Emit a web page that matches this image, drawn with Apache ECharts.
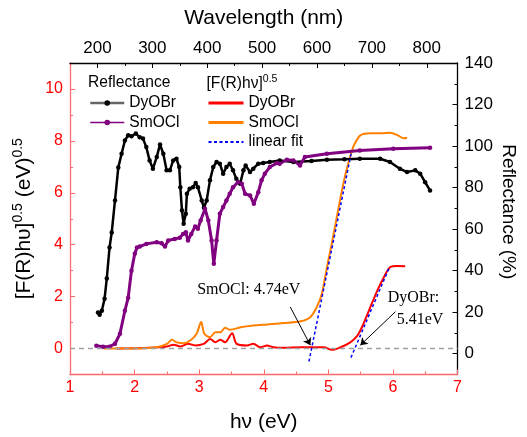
<!DOCTYPE html>
<html>
<head>
<meta charset="utf-8">
<script src="https://cdn.jsdelivr.net/npm/echarts@6/dist/echarts.min.js"></script>
<style>
  html, body { margin: 0; padding: 0; background: #fff; }
  #main { width: 527px; height: 437px; }
</style>
</head>
<body>
<div id="main"></div>
<script>
// reflectance spectra: wavelength (nm) -> reflectance (%)
var dyobrWl = [201, 204, 208, 213, 217, 222, 226, 232, 238, 244, 250, 256, 262, 270, 277, 283, 289, 295, 301, 308,
  314, 320, 326, 332, 338, 344, 349, 351, 354, 357, 361, 363, 368, 374, 379, 383, 390, 394, 399, 405,
  411, 417, 423, 429, 435, 441, 447, 453, 460, 466, 470, 478, 484, 493, 502, 514, 532, 557, 590, 618,
  650, 678, 715, 733, 751, 764, 779, 788, 797, 806];
var dyobrRefl = [19.9, 18.8, 20.7, 26.5, 36.2, 51.1, 58.4, 73.8, 89.7, 96.3, 102.7, 105.2, 104.7, 106.0, 104.3, 103.6, 99.5, 93.1, 89.1, 94.7,
  100.8, 96.3, 88.3, 88.3, 93.1, 93.9, 89.9, 80.2, 69.0, 62.6, 67.4, 77.0, 79.5, 80.2, 82.2, 80.2, 73.8, 70.3, 73.8, 83.5,
  89.9, 92.3, 91.5, 86.7, 89.9, 91.5, 88.3, 84.3, 81.9, 88.3, 90.7, 87.5, 89.1, 91.5, 91.8, 92.3, 93.1, 92.3, 92.8, 93.4,
  93.6, 93.9, 93.9, 92.3, 89.1, 87.5, 88.3, 86.7, 82.6, 78.6];
var smoclWl = [198, 210, 222, 232, 241, 250, 256, 262, 268, 272, 277, 289, 308, 317, 323, 329, 341, 350, 356, 361,
  365, 371, 378, 383, 388, 396, 402, 408, 412, 417, 423, 429, 435, 441, 447, 456, 463, 469, 478, 485,
  493, 499, 505, 514, 527, 532, 545, 557, 569, 578, 618, 678, 739, 806];
var smoclRefl = [3.9, 3.4, 3.4, 4.8, 9.6, 20.7, 27.0, 40.0, 48.2, 51.1, 51.6, 52.9, 53.7, 53.2, 51.6, 54.5, 55.3, 55.8, 57.7, 58.5,
  54.5, 57.7, 61.3, 60.2, 64.2, 69.8, 64.2, 54.5, 43.3, 54.5, 67.4, 70.6, 73.8, 77.0, 80.2, 82.6, 81.9, 77.0, 76.2, 72.2,
  77.8, 83.5, 86.7, 89.9, 91.8, 91.5, 93.4, 93.1, 90.7, 94.7, 96.3, 97.9, 98.7, 99.2];

// Kubelka-Munk [F(R)hv]^0.5 vs photon energy (eV)
var dyobrEv = [1.72, 2.24, 2.50, 2.60, 2.71, 2.83, 2.94, 3.07, 3.17, 3.25, 3.33, 3.40, 3.51, 3.58, 3.74, 3.84, 3.95, 4.05, 4.15, 4.31,
  4.57, 4.83, 4.93, 5.06, 5.19, 5.34, 5.45, 5.52, 5.63, 5.76, 5.86, 5.96, 6.07, 6.19];
var dyobrKm = [0.0, 0.03, 0.08, 0.15, 0.08, 0.18, 0.12, 0.18, 0.37, 0.24, 0.34, 0.24, 0.59, 0.18, 0.12, 0.18, 0.05, 0.12, 0.05, 0.03,
  0.05, 0.05, 0.05, -0.05, 0.05, 0.24, 0.50, 0.82, 1.47, 2.24, 2.75, 3.14, 3.18, 3.17];
var smoclEv = [1.52, 1.98, 2.34, 2.50, 2.58, 2.65, 2.76, 2.86, 2.96, 3.03, 3.08, 3.17, 3.25, 3.33, 3.40, 3.48, 3.64, 3.84, 4.05, 4.31,
  4.57, 4.72, 4.82, 4.90, 4.95, 5.00, 5.05, 5.10, 5.15, 5.20, 5.25, 5.30, 5.35, 5.40, 5.50, 5.65, 5.81, 5.96, 6.07, 6.17, 6.22];
var smoclKm = [0.0, 0.0, 0.05, 0.18, 0.34, 0.24, 0.20, 0.31, 0.57, 1.02, 0.57, 0.44, 0.63, 0.63, 0.80, 0.72, 0.82, 0.89, 0.93, 0.98,
  1.05, 1.21, 1.59, 2.11, 2.75, 3.4, 4.0, 4.65, 5.3, 5.95, 6.55, 7.05, 7.5, 7.85, 8.22, 8.29, 8.29, 8.31, 8.22, 8.10, 8.12];

// linear fits of the absorption edges
var smoclFitEv = [4.70, 5.36];
var smoclFitKm = [-0.5, 7.6];
var dyobrFitEv = [5.35, 5.95];
var dyobrFitKm = [-0.35, 3.16];

// band gap notes: [text, eV, value, align]
var notes = [['SmOCl: 4.74eV', 4.566, 2.25, 'right'], ['DyOBr:', 6.318, 1.95, 'center'], ['5.41eV', 6.419, 1.10, 'center']];
var arrows = [[[4.411, 1.60], [4.721, 0.13]], [[6.039, 1.42], [5.496, 0.13]]];

// ticks
var evTicks = [1, 2, 3, 4, 5, 6, 7];
var evMinor = [1.5, 2.5, 3.5, 4.5, 5.5, 6.5];
var wlTicks = [200, 300, 400, 500, 600, 700, 800];
var wlMinor = [250, 350, 450, 550, 650, 750];
var kmTicks = [0, 2, 4, 6, 8, 10];
var kmMinor = [1, 3, 5, 7, 9];
var reflTicks = [0, 20, 40, 60, 80, 100, 120, 140];
var reflMinor = [10, 30, 50, 70, 90, 110, 130];

var SANS = '"Liberation Sans", Arial, sans-serif';
var SERIF = '"Liberation Serif", "Times New Roman", serif';
var RED_AXIS = '#ff6a6a';

function pairs(xs, ys) {
  return xs.map(function (x, i) { return [x, ys[i]]; });
}

function mainAxis(pos, min, max, ticks, color, lineColor, size, margin) {
  return {
    type: 'value', position: pos, min: min, max: max,
    nameMoveOverlap: false,
    axisLine: { onZero: false, lineStyle: { color: lineColor, width: 1.3 } },
    axisTick: { inside: true, length: 5, customValues: ticks, lineStyle: { color: lineColor } },
    axisLabel: { customValues: ticks, color: color, fontSize: size, fontFamily: SANS, margin: margin },
    splitLine: { show: false },
    nameTextStyle: { color: '#000', fontFamily: SANS }
  };
}

function minorAxis(pos, min, max, ticks, lineColor) {
  return {
    type: 'value', position: pos, min: min, max: max,
    axisLine: { show: false, onZero: false },
    axisTick: { inside: true, length: 3, customValues: ticks, lineStyle: { color: lineColor } },
    axisLabel: { show: false },
    splitLine: { show: false }
  };
}

var xBottom = mainAxis('bottom', 1, 7, evTicks, '#ff0000', RED_AXIS, 16, 5);
xBottom.name = 'h\u03bd (eV)';
xBottom.nameLocation = 'middle';
xBottom.nameGap = 37;
xBottom.nameTextStyle.fontSize = 21;

var xTop = mainAxis('top', 150, 856, wlTicks, '#000', '#000', 17, 6);
xTop.name = 'Wavelength (nm)';
xTop.nameLocation = 'middle';
xTop.nameGap = 34;
xTop.nameTextStyle.fontSize = 21;

var yLeft = mainAxis('left', -1, 11, kmTicks, '#ff0000', RED_AXIS, 16, 7);
yLeft.name = '{m|[F(R)h\u03c5]}{s|0.5}{m| (eV)}{s|0.5}';
yLeft.nameLocation = 'middle';
yLeft.nameGap = 33;
yLeft.nameTextStyle.rich = {
  m: { fontSize: 21, lineHeight: 26, fontFamily: SANS, color: '#000' },
  s: { fontSize: 14, verticalAlign: 'top', fontFamily: SANS, color: '#000' }
};

var yRight = mainAxis('right', -10, 140, reflTicks, '#000', '#000', 17, 7);
yRight.name = 'Reflectance (%)';
yRight.nameLocation = 'middle';
yRight.nameRotate = -90;
yRight.nameGap = 41;
yRight.nameTextStyle.fontSize = 19;
yRight.nameTextStyle.padding = [0, 14, 0, 0];

var chart = echarts.init(document.getElementById('main'));

var noDot = { opacity: 0 };

var option = {
  animation: false,
  backgroundColor: '#fff',
  grid: { left: 70, right: 69.5, top: 63, bottom: 62.5, outerBoundsMode: 'none' },
  xAxis: [xBottom, xTop, minorAxis('bottom', 1, 7, evMinor, RED_AXIS), minorAxis('top', 150, 856, wlMinor, '#000')],
  yAxis: [yLeft, yRight, minorAxis('left', -1, 11, kmMinor, RED_AXIS), minorAxis('right', -10, 140, reflMinor, '#000')],
  legend: [{
    orient: 'vertical', left: 89, top: 95, padding: 0,
    itemWidth: 34, itemHeight: 7, itemGap: 3.5,
    textStyle: { fontSize: 15.6, fontFamily: SANS, color: '#000' },
    formatter: function (n) { return n.split(':')[1]; },
    data: [
      { name: 'R:DyOBr', lineStyle: { color: '#666', width: 2.5 } },
      { name: 'R:SmOCl', lineStyle: { color: '#800080', width: 1.5 } }
    ]
  }, {
    orient: 'vertical', left: 207, top: 95, padding: 0,
    itemWidth: 35, itemHeight: 7, itemGap: 3.5,
    textStyle: { fontSize: 15.6, fontFamily: SANS, color: '#000' },
    formatter: function (n) { return n.indexOf(':') > 0 ? n.split(':')[1] : n; },
    data: [
      { name: 'F:DyOBr', itemStyle: noDot, lineStyle: { width: 3 } },
      { name: 'F:SmOCl', itemStyle: noDot, lineStyle: { width: 3 } },
      { name: 'linear fit', itemStyle: noDot }
    ]
  }],
  series: [{
    name: 'F:DyOBr', type: 'line', xAxisIndex: 0, yAxisIndex: 0,
    data: pairs(dyobrEv, dyobrKm), symbol: 'none', smooth: 0.3,
    lineStyle: { color: '#ff0000', width: 2 }, itemStyle: { color: '#ff0000' },
    markLine: {
      silent: true, symbol: 'none', label: { show: false },
      lineStyle: { color: '#a0a0a0', type: [5, 4], width: 1.3 },
      data: [{ yAxis: 0 }]
    }
  }, {
    name: 'F:SmOCl', type: 'line', xAxisIndex: 0, yAxisIndex: 0,
    data: pairs(smoclEv, smoclKm), symbol: 'none', smooth: 0.3,
    lineStyle: { color: '#ff8000', width: 2 }, itemStyle: { color: '#ff8000' },
    markLine: {
      silent: true, symbol: ['none', 'arrow'], symbolSize: 7, label: { show: false },
      lineStyle: { color: '#000', type: 'solid', width: 1 },
      data: arrows.map(function (a) { return [{ coord: a[0] }, { coord: a[1] }]; })
    }
  }, {
    name: 'R:DyOBr', type: 'line', xAxisIndex: 1, yAxisIndex: 1,
    data: pairs(dyobrWl, dyobrRefl), symbol: 'circle', symbolSize: 4.5,
    lineStyle: { color: '#000', width: 2.5 }, itemStyle: { color: '#000' }
  }, {
    name: 'R:SmOCl', type: 'line', xAxisIndex: 1, yAxisIndex: 1,
    data: pairs(smoclWl, smoclRefl), symbol: 'circle', symbolSize: 4.5,
    lineStyle: { color: '#800080', width: 3 }, itemStyle: { color: '#800080' }
  }, {
    name: 'linear fit', type: 'line', xAxisIndex: 0, yAxisIndex: 0,
    data: pairs(smoclFitEv, smoclFitKm), symbol: 'none',
    lineStyle: { color: '#0000ff', width: 1.5, type: [3, 2.5] }, itemStyle: { color: '#0000ff' }
  }, {
    name: 'linear fit', type: 'line', xAxisIndex: 0, yAxisIndex: 0,
    data: pairs(dyobrFitEv, dyobrFitKm), symbol: 'none',
    lineStyle: { color: '#0000ff', width: 1.5, type: [3, 2.5] }, itemStyle: { color: '#0000ff' }
  }]
};

chart.setOption(option);

// text notes placed through the axes, legend headers above the legends
var graphics = notes.map(function (n) {
  var p = chart.convertToPixel({ xAxisIndex: 0, yAxisIndex: 0 }, [n[1], n[2]]);
  return {
    type: 'text', x: p[0], y: p[1], z: 10,
    style: { text: n[0], font: '16px ' + SERIF, fill: '#000', align: n[3], verticalAlign: 'middle' }
  };
});
graphics.push({
  type: 'text', x: 88, y: 82.5, z: 10,
  style: { text: 'Reflectance', font: '15.6px ' + SANS, fill: '#000', verticalAlign: 'middle' }
});
graphics.push({
  type: 'text', x: 206.5, y: 84, z: 10,
  style: {
    text: '{m|[F(R)h\u03bd]}{s|0.5}', verticalAlign: 'middle', fill: '#000',
    rich: {
      m: { fontSize: 15.6, fontFamily: SANS, lineHeight: 20 },
      s: { fontSize: 10.5, fontFamily: SANS, verticalAlign: 'top' }
    }
  }
});
chart.setOption({ graphic: graphics });
</script>
</body>
</html>
